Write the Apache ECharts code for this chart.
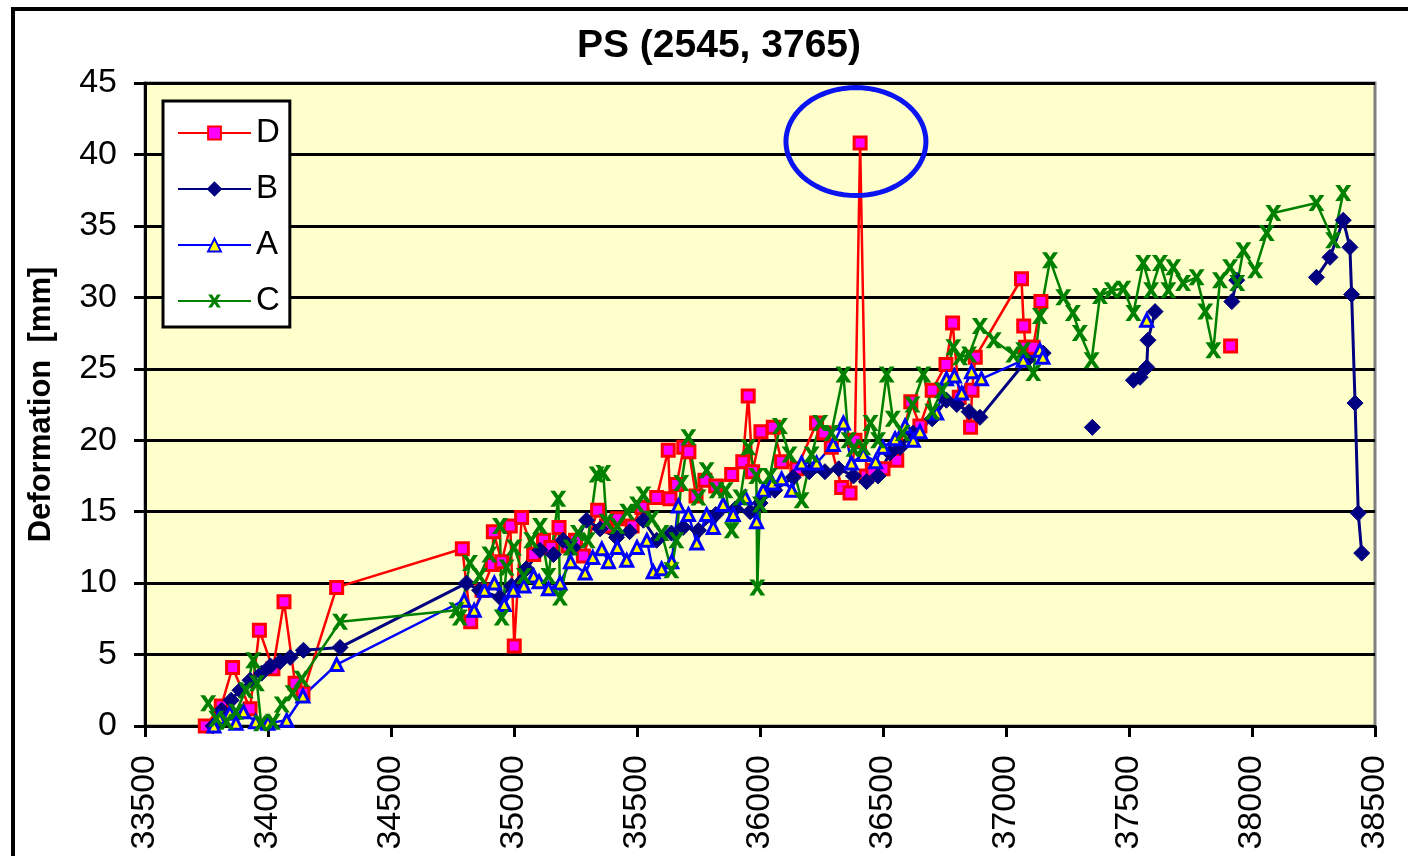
<!DOCTYPE html>
<html>
<head>
<meta charset="utf-8">
<title>PS (2545, 3765)</title>
<script src="https://cdn.jsdelivr.net/npm/echarts@6/dist/echarts.min.js"></script>
<style>
  html, body { margin: 0; padding: 0; background: #fff; }
  #main { width: 1408px; height: 856px; }
</style>
</head>
<body>
<div id="main"></div>
<script>
// x = date serial, y = deformation [mm]; null = gap in the line
var xTicks = [33500, 34000, 34500, 35000, 35500, 36000, 36500, 37000, 37500, 38000, 38500];
var yTicks = [0, 5, 10, 15, 20, 25, 30, 35, 40, 45];

var dX = [33745,33810,33856,33927,33965,34020,34065,34110,34142,34279,34790,34824,34870,34912,34916,34950,34985,35001,35031,35080,35120,35150,35183,35220,35250,35282,35340,35376,35420,35480,35520,35580,35627,35634,35661,35690,35711,35740,35776,35820,35885,35930,35952,35970,36004,36054,36088,36150,36230,36260,36290,36332,36366,36386,36407,36432,36459,36500,36556,36613,36650,36700,36756,36783,36810,36856,36862,36875,37063,37072,37080,37110,37142,37500,37913];
var dY = [0.0,1.4,4.1,1.2,6.7,4.0,8.7,3.0,2.3,9.7,12.4,7.3,9.5,11.3,13.6,11.5,14.0,5.6,14.6,12.0,13.0,12.5,13.9,12.6,13.0,11.9,15.1,14.0,14.5,14.0,15.3,16.0,19.3,15.9,16.9,19.5,19.2,16.1,17.2,16.8,17.6,18.5,23.1,17.8,20.6,20.9,18.5,18.0,21.2,20.5,19.5,16.7,16.3,20.0,40.8,17.5,17.9,18.0,18.6,22.7,21.0,23.5,25.3,28.2,23.0,20.9,23.5,25.8,31.3,28.0,26.5,26.5,29.7,null,26.6];

var bX = [33777,33812,33850,33886,33927,33974,34010,34049,34090,34144,34293,34807,34860,34943,34990,35050,35106,35160,35200,35240,35295,35350,35417,35470,35526,35580,35640,35688,35750,35820,35900,35960,36000,36060,36135,36200,36264,36320,36380,36433,36480,36528,36570,36623,36700,36758,36800,36850,36894,37084,37151,37250,37351,37450,37518,37545,37572,37577,37606,37750,37918,37938,38100,38262,38317,38371,38398,38405,38419,38432,38446];
var bY = [0.0,1.1,1.8,2.5,3.2,3.7,4.2,4.5,4.8,5.3,5.5,10.0,9.5,9.0,9.8,11.0,12.3,12.0,13.0,12.5,14.4,13.8,13.2,13.6,14.4,13.0,13.5,13.9,13.7,14.8,15.2,15.0,15.6,16.5,17.4,17.8,17.8,18.0,17.5,17.1,17.5,19.1,19.5,20.5,21.5,22.8,22.5,22.0,21.6,25.6,26.1,null,20.9,null,24.2,24.4,25.1,27.0,29.0,null,29.7,31.2,null,31.4,32.8,35.4,33.5,30.2,22.6,14.9,12.1];

var aX = [33780,33800,33845,33870,33900,33950,34000,34076,34142,34279,34797,34838,34880,34920,34960,34997,35040,35080,35102,35140,35187,35230,35289,35320,35357,35384,35420,35458,35500,35540,35566,35600,35641,35668,35709,35743,35783,35810,35850,35891,35940,35986,36013,36050,36088,36129,36169,36230,36298,36339,36372,36420,36470,36500,36549,36590,36623,36650,36718,36758,36790,36820,36860,36900,37070,37138,37150,37400,37572];
var aY = [0.0,0.6,0.9,0.2,1.0,0.3,0.2,0.4,2.1,4.3,8.8,8.1,9.5,10.0,8.5,9.5,9.8,10.5,10.1,9.6,10.0,11.5,10.7,11.8,12.4,11.5,12.5,11.6,12.5,13.0,10.8,11.0,11.5,15.4,14.8,12.8,14.8,13.9,15.5,14.8,16.0,14.3,16.5,17.0,17.3,16.5,18.4,18.4,19.7,21.2,18.4,19.0,18.5,19.5,20.1,21.0,20.0,20.6,21.9,24.3,24.5,23.3,24.8,24.3,25.6,26.3,25.8,null,28.4];

var cX = [33757,33790,33832,33870,33910,33940,33955,33972,34020,34056,34100,34137,34293,34766,34780,34821,34860,34900,34943,34950,34970,35000,35040,35070,35106,35140,35180,35187,35230,35260,35300,35336,35363,35376,35420,35460,35500,35526,35560,35600,35640,35660,35680,35709,35750,35783,35824,35860,35885,35920,35952,35985,35989,36000,36040,36081,36120,36169,36210,36245,36290,36339,36360,36380,36420,36449,36480,36515,36540,36580,36620,36664,36700,36740,36786,36813,36850,36894,36950,37030,37070,37111,37138,37179,37233,37272,37300,37348,37382,37430,37477,37518,37558,37590,37626,37660,37680,37720,37775,37810,37843,37870,37911,37940,37965,38013,38060,38087,38262,38330,38371];
var cY = [1.6,0.5,0.3,1.0,2.5,4.6,3.0,0.2,0.3,1.5,2.3,3.3,7.3,8.1,7.6,11.4,10.5,12.0,14.0,7.6,11.1,12.5,10.5,13.0,14.0,10.5,15.9,9.0,12.5,13.5,13.0,17.6,17.7,14.3,14.0,15.0,15.5,16.2,14.5,13.5,10.9,13.0,17.0,20.2,16.0,17.9,16.5,16.5,13.7,16.0,19.5,17.5,9.7,15.5,17.5,21.0,19.0,15.8,19.0,21.2,20.5,24.6,20.0,19.4,19.5,21.2,20.0,24.6,21.5,20.5,22.5,24.6,22.0,23.5,26.5,25.8,26.0,28.0,27.0,26.0,26.3,24.7,28.7,32.6,30.0,28.9,27.5,25.6,30.1,30.5,30.6,28.9,32.4,30.5,32.4,30.5,32.1,31.0,31.4,29.0,26.3,31.2,32.1,31.0,33.3,31.9,34.5,35.9,36.6,34.0,37.3];

function pairs(xs, ys) {
	var out = [];
	for (var i = 0; i < xs.length; i++) {
		out.push([xs[i], ys[i] === null ? '-' : ys[i]]);
	}
	return out;
}

var FONT = '"Liberation Sans", Arial, sans-serif';
var xMark = 'path://M0,0H3L5,3L7,0H10L6.5,5L10,10H7L5,7L3,10H0L3.5,5Z';

var myChart = echarts.init(document.getElementById('main'));
var option = {
	animation: false,
	backgroundColor: '#ffffff',
	title: {
		text: 'PS (2545, 3765)',
		left: 572,
		top: 22,
		textStyle: { fontFamily: FONT, fontSize: 39, fontWeight: 'bold', color: '#000' }
	},
	legend: {
		orient: 'vertical',
		left: 163,
		top: 101,
		padding: [15, 10, 9, 14],
		itemWidth: 73,
		itemHeight: 16,
		itemGap: 22,
		backgroundColor: '#ffffff',
		borderColor: '#000000',
		borderWidth: 3,
		borderRadius: 0,
		textStyle: { fontFamily: FONT, fontSize: 33, lineHeight: 34, color: '#000' },
		data: ['D', 'B', 'A', 'C']
	},
	grid: {
		left: 145, right: 33, top: 83, bottom: 130,
		containLabel: false,
		outerBoundsMode: 'none',
		show: true,
		backgroundColor: '#FFFFCC',
		borderColor: '#808080',
		borderWidth: 3
	},
	xAxis: {
		type: 'value',
		min: xTicks[0],
		max: xTicks[xTicks.length - 1],
		interval: 500,
		axisLine: { show: true, onZero: false, lineStyle: { color: '#000', width: 3 } },
		axisTick: { show: true, inside: false, length: 11, lineStyle: { color: '#000', width: 3 } },
		splitLine: { show: false },
		axisLabel: {
			rotate: 90, margin: 29,
			fontFamily: FONT, fontSize: 34, color: '#000',
			showMinLabel: true, showMaxLabel: true,
			formatter: function (v) { return String(v); }
		}
	},
	yAxis: {
		type: 'value',
		min: yTicks[0],
		max: yTicks[yTicks.length - 1],
		interval: 5,
		name: 'Deformation  [mm]',
		nameLocation: 'middle',
		nameGap: 88,
		nameTextStyle: { fontFamily: FONT, fontSize: 31, fontWeight: 'bold', color: '#000' },
		axisLine: { show: true, lineStyle: { color: '#000', width: 3 } },
		axisTick: { show: true, inside: false, length: 11, lineStyle: { color: '#000', width: 3 } },
		splitLine: { show: true, lineStyle: { color: '#000', width: 3 } },
		axisLabel: { margin: 28, fontFamily: FONT, fontSize: 34, color: '#000' }
	},
	series: [
		{
			name: 'D', type: 'line', data: pairs(dX, dY),
			symbol: 'rect', symbolSize: 12, showAllSymbol: true,
			lineStyle: { color: '#FF0000', width: 2.5 },
			itemStyle: { color: '#FF00FF', borderColor: '#FF0000', borderWidth: 3 }
		},
		{
			name: 'B', type: 'line', data: pairs(bX, bY),
			symbol: 'diamond', symbolSize: 16, showAllSymbol: true,
			lineStyle: { color: '#000080', width: 3 },
			itemStyle: { color: '#000080', borderColor: '#000080', borderWidth: 1 }
		},
		{
			name: 'A', type: 'line', data: pairs(aX, aY),
			symbol: 'triangle', symbolSize: 12, showAllSymbol: true,
			lineStyle: { color: '#0000FF', width: 2.5 },
			itemStyle: { color: '#FFFF00', borderColor: '#0000FF', borderWidth: 3 }
		},
		{
			name: 'C', type: 'line', data: pairs(cX, cY),
			symbol: xMark, symbolSize: 16, showAllSymbol: true,
			lineStyle: { color: '#008000', width: 2.5 },
			itemStyle: { color: '#008000' }
		}
	]
};
myChart.setOption(option);

// outer frame and the blue ellipse drawn round the spike of D
var c = myChart.convertToPixel({ gridIndex: 0 }, [36390, 40.9]);
var ring = [];
for (var k = 0; k < 72; k++) {
	var t = k / 72 * Math.PI * 2;
	ring.push([c[0] + 70 * Math.cos(t), c[1] + 54 * Math.sin(t)]);
}
myChart.setOption({
	graphic: [
		{
			type: 'rect', silent: true,
			shape: { x: 13, y: 9, width: 1600, height: 1000 },
			style: { fill: 'none', stroke: '#000', lineWidth: 4 }
		},
		{
			type: 'polygon', silent: true, z: 100,
			shape: { points: ring },
			style: { fill: 'none', stroke: '#0A14F0', lineWidth: 5 }
		}
	]
});
</script>
</body>
</html>
